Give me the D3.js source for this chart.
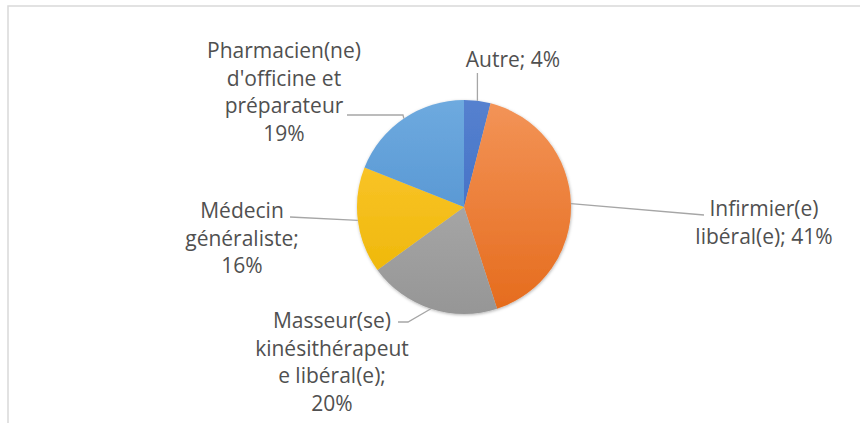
<!DOCTYPE html>
<html>
<head>
<meta charset="utf-8">
<script src="https://cdn.jsdelivr.net/npm/d3@7"></script>
<style>
  body { margin: 0; background: #fff; }
  text { font-family: "Open Sans", sans-serif; }
</style>
</head>
<body>
<div id="chart"></div>
<script>
// slice data, clockwise from 12 o'clock
const categories = ['Autre', 'Infirmier(e) libéral(e)', 'Masseur(se) kinésithérapeute libéral(e)', 'Médecin généraliste', "Pharmacien(ne) d'officine et préparateur"];
const values = [4, 41, 20, 16, 19];
const labelLines = [
  ['Autre; 4%'],
  ['Infirmier(e)', 'libéral(e); 41%'],
  ['Masseur(se)', 'kinésithérapeut', 'e libéral(e);', '20%'],
  ['Médecin', 'généraliste;', '16%'],
  ['Pharmacien(ne)', "d'officine et", 'préparateur', '19%']
];
const colors = [
  ['#5581cf', '#3a66c0'],
  ['#f39458', '#e56b1c'],
  ['#b4b4b4', '#969696'],
  ['#ffca38', '#ebb400'],
  ['#6eaadf', '#4688ca']
];

const width = 860, height = 423;
const cx = 464, cy = 207, radius = 107;

// label placement (text centre x, first baseline y) and leader-line start points
const labelLayout = [
  { x: 513, y: 67, leader: [[477, 73]] },
  { x: 764, y: 216, leader: [[704, 215]] },
  { x: 332, y: 328, leader: [[398, 322], [408, 322]] },
  { x: 242, y: 218, leader: [[290, 217]] },
  { x: 284, y: 58, leader: [[347, 115], [403, 115]] }
];
const lineStep = 27.5;

const svg = d3.select('#chart').append('svg')
  .attr('width', width)
  .attr('height', height);

const defs = svg.append('defs');
colors.forEach((c, i) => {
  const g = defs.append('linearGradient')
    .attr('id', 'grad' + i)
    .attr('gradientUnits', 'userSpaceOnUse')
    .attr('x1', 0).attr('y1', -radius)
    .attr('x2', 0).attr('y2', radius);
  g.append('stop').attr('offset', '0%').attr('stop-color', c[0]);
  g.append('stop').attr('offset', '100%').attr('stop-color', c[1]);
});
defs.append('filter').attr('id', 'shadow')
  .attr('x', '-20%').attr('y', '-20%').attr('width', '140%').attr('height', '140%')
  .append('feDropShadow')
  .attr('dx', 0.5).attr('dy', 1).attr('stdDeviation', 1.8)
  .attr('flood-color', '#000').attr('flood-opacity', 0.3);

// chart frame
svg.append('rect')
  .attr('x', 8).attr('y', 6)
  .attr('width', width + 20).attr('height', height + 20)
  .attr('fill', 'none')
  .attr('stroke', '#d9d9d9')
  .attr('stroke-width', 1.5);

const pie = d3.pie().sort(null).value(d => d);
const arcs = pie(values);
const arc = d3.arc().innerRadius(0).outerRadius(radius);

const g = svg.append('g').attr('transform', `translate(${cx}, ${cy})`);
g.append('g').attr('filter', 'url(#shadow)')
  .selectAll('path')
  .data(arcs)
  .join('path')
  .attr('d', arc)
  .attr('fill', (d, i) => `url(#grad${i})`);

// leader lines: from label side to the slice edge at its mid angle
const line = d3.line();
arcs.forEach((a, i) => {
  const mid = (a.startAngle + a.endAngle) / 2;
  const edge = [cx + radius * Math.sin(mid), cy - radius * Math.cos(mid)];
  const pts = labelLayout[i].leader.map(p => p.slice());
  if (i === 0) pts[0][0] = edge[0];
  pts.push(edge);
  svg.append('path')
    .attr('d', line(pts))
    .attr('fill', 'none')
    .attr('stroke', '#a6a6a6')
    .attr('stroke-width', 1.3);
});

// data labels
labelLines.forEach((lines, i) => {
  const t = svg.append('text')
    .attr('text-anchor', 'middle')
    .attr('font-size', 21)
    .attr('fill', '#505050');
  lines.forEach((s, j) => {
    t.append('tspan')
      .attr('x', labelLayout[i].x)
      .attr('y', labelLayout[i].y + j * lineStep)
      .text(s);
  });
});
</script>
</body>
</html>
